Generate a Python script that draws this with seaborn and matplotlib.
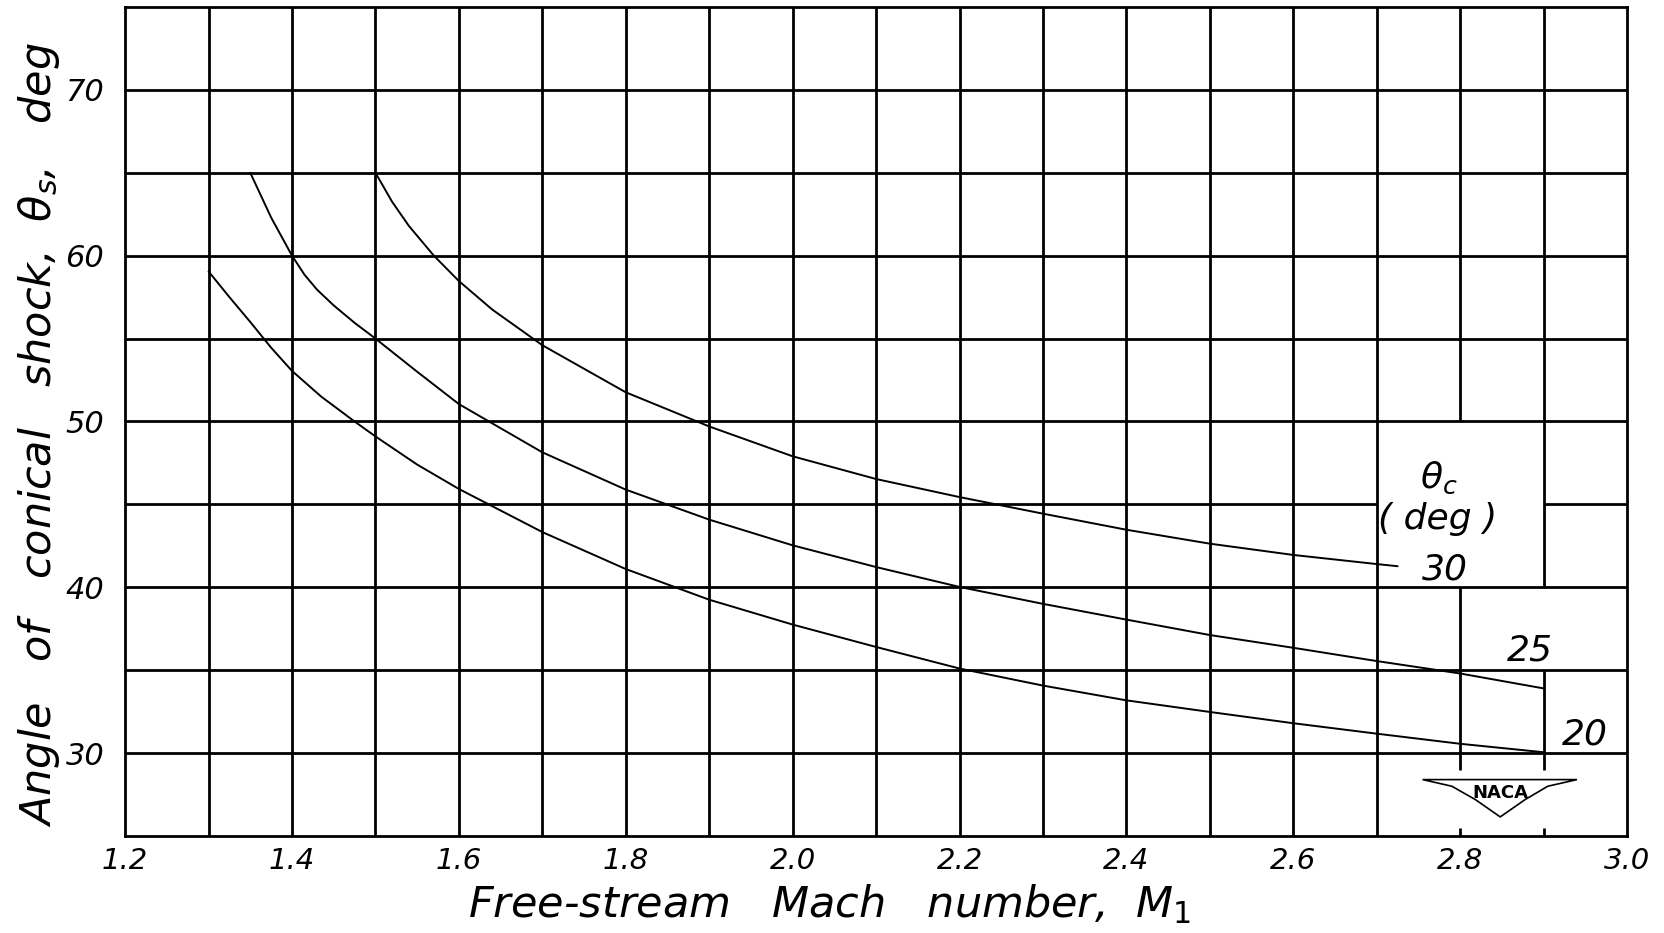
import numpy as np
import pandas as pd
import matplotlib
matplotlib.use('Agg')
import matplotlib.pyplot as plt
from matplotlib.patches import Polygon
import seaborn as sns

# Conical shock angle vs free-stream Mach number
MACH_20 = [1.30, 1.325, 1.35, 1.375, 1.40, 1.435, 1.475, 1.50, 1.55, 1.60, 1.70,
           1.80, 1.90, 2.00, 2.10, 2.20, 2.30, 2.40, 2.50, 2.60, 2.70, 2.80, 2.90]
THETA_20 = [59.05, 57.5, 56.0, 54.45, 53.05, 51.5, 50.0, 49.1, 47.4, 45.93, 43.33,
            41.1, 39.25, 37.75, 36.4, 35.1, 34.07, 33.18, 32.48, 31.8, 31.17, 30.56, 30.05]

MACH_25 = [1.35, 1.375, 1.40, 1.415, 1.43, 1.45, 1.475, 1.50, 1.55, 1.60, 1.70,
           1.80, 1.90, 2.00, 2.10, 2.20, 2.30, 2.40, 2.50, 2.60, 2.70, 2.80, 2.90]
THETA_25 = [65.0, 62.3, 60.0, 58.85, 57.95, 57.0, 55.95, 55.0, 53.0, 51.05, 48.14,
            45.89, 44.08, 42.53, 41.22, 40.02, 39.0, 38.05, 37.12, 36.35, 35.55, 34.8, 33.9]

MACH_30 = [1.50, 1.52, 1.54, 1.57, 1.60, 1.64, 1.70, 1.80, 1.90, 2.00, 2.10, 2.20,
           2.30, 2.40, 2.50, 2.60, 2.70, 2.725]
THETA_30 = [65.0, 63.25, 61.8, 60.0, 58.47, 56.75, 54.6, 51.76, 49.7, 47.9, 46.53, 45.44,
            44.44, 43.47, 42.63, 41.95, 41.4, 41.27]

CONE_LABELS = ['20', '25', '30']
X_TICKS = [1.2, 1.4, 1.6, 1.8, 2.0, 2.2, 2.4, 2.6, 2.8, 3.0]
X_TICK_LABELS = ['1.2', '1.4', '1.6', '1.8', '2.0', '2.2', '2.4', '2.6', '2.8', '3.0']
Y_TICKS = [30, 40, 50, 60, 70]

X_MIN, X_MAX = 1.2, 3.0
Y_MIN, Y_MAX = 25, 75


def grid_segments(lo, hi, gaps):
    """Split the span lo..hi into pieces, leaving out the gaps."""
    pieces = []
    start = lo
    for g0, g1 in sorted(gaps):
        pieces.append((start, g0))
        start = g1
    pieces.append((start, hi))
    return pieces


def main():
    sns.set_style('white')
    plt.rcParams['font.family'] = ['DejaVu Sans']
    plt.rcParams['mathtext.fontset'] = 'dejavusans'
    plt.rcParams.update({'text.color': 'black', 'axes.labelcolor': 'black',
                         'xtick.color': 'black', 'ytick.color': 'black'})

    fig = plt.figure(figsize=(16.64, 9.33), dpi=100)
    ax = fig.add_axes([0.0752, 0.104, 0.9026, 0.8885])

    # hand-drawn grid: some cells are left open for the labels and the logo
    v_gaps = {2.8: [(40, 50), (25.5, 29.0)], 2.9: [(35, 40), (25.5, 29.0)]}
    h_gaps = {45: [(2.7, 2.9)]}
    grid_kw = dict(color='black', lw=2.0, zorder=1)
    for i in range(1, 18):
        xv = round(X_MIN + 0.1 * i, 1)
        for a, b in grid_segments(Y_MIN, Y_MAX, v_gaps.get(xv, [])):
            ax.vlines(xv, a, b, **grid_kw)
    for yv in range(30, 75, 5):
        for a, b in grid_segments(X_MIN, X_MAX, h_gaps.get(yv, [])):
            ax.hlines(yv, a, b, **grid_kw)

    curves = [(MACH_20, THETA_20), (MACH_25, THETA_25), (MACH_30, THETA_30)]
    frames = []
    for lab, (m, t) in zip(CONE_LABELS, curves):
        frames.append(pd.DataFrame({'mach': m, 'theta_s': t, 'cone': lab}))
    df = pd.concat(frames, ignore_index=True)
    sns.lineplot(data=df, x='mach', y='theta_s', units='cone', estimator=None,
                 color='black', lw=1.4, sort=False, ax=ax, zorder=3)

    ax.set_xlim(X_MIN, X_MAX)
    ax.set_ylim(Y_MIN, Y_MAX)
    ax.set_xticks(X_TICKS)
    ax.set_xticklabels(X_TICK_LABELS, fontsize=21, style='italic')
    ax.set_yticks(Y_TICKS)
    ax.set_yticklabels([str(v) for v in Y_TICKS], fontsize=22, style='italic')
    ax.tick_params(axis='both', length=0)
    ax.tick_params(axis='x', pad=8)
    ax.tick_params(axis='y', pad=15)
    for s in ax.spines.values():
        s.set_color('black')
        s.set_linewidth(2.0)

    ax.set_xlabel('Free-stream   Mach   number,  $M_1$', fontsize=31, style='italic')
    ax.xaxis.set_label_coords(0.469, -0.056)
    ax.set_ylabel('Angle   of   conical   shock,  $\\theta_s$,   deg', fontsize=31,
                  style='italic')
    ax.yaxis.set_label_coords(-0.042, 0.484)

    # curve labels
    txt = dict(fontsize=26, style='italic', ha='center', va='center', zorder=4)
    ax.text(2.774, 46.6, '$\\theta_c$', **txt)
    ax.text(2.773, 44.1, '( deg )', **txt)
    ax.text(2.782, 41.1, CONE_LABELS[2], **txt)
    ax.text(2.884, 36.2, CONE_LABELS[1], **txt)
    ax.text(2.950, 31.1, CONE_LABELS[0], **txt)

    # NACA wing emblem
    wing = Polygon([(2.755, 28.4), (2.94, 28.4), (2.905, 28.0), (2.878, 27.2),
                    (2.848, 26.15), (2.818, 27.2), (2.79, 28.0)],
                   closed=True, fill=False, ec='black', lw=1.2, zorder=4)
    ax.add_patch(wing)
    ax.text(2.848, 27.6, 'NACA', fontsize=13, fontweight='bold', ha='center',
            va='center', zorder=5)

    fig.savefig('out.png', dpi=100, facecolor='white')


if __name__ == '__main__':
    main()
